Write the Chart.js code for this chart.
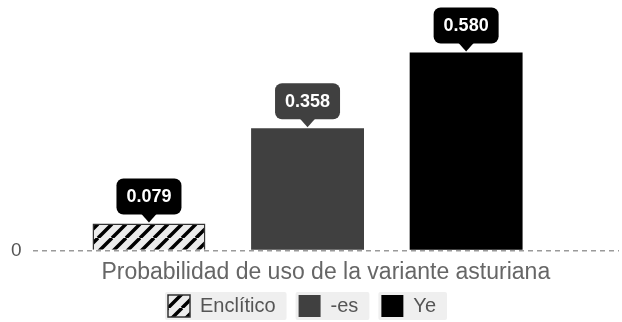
<!DOCTYPE html>
<html><head><meta charset="utf-8">
<script src="https://cdn.jsdelivr.net/npm/chart.js@4/dist/chart.umd.min.js"></script>
<style>html,body{margin:0;padding:0;background:#fff}#wrap{width:622px;height:322px}</style>
</head><body><div id="wrap"><canvas id="c" width="622" height="322"></canvas></div>
<script>
const categories = ['Enclítico', '-es', 'Ye'];
const values = [0.079, 0.358, 0.580];
const positions = [0, 1, 2];
const yTicks = [0];
const axisTitle = 'Probabilidad de uso de la variante asturiana';

function hatch() {
  const s = 14;
  const c = document.createElement('canvas');
  c.width = s; c.height = s;
  const g = c.getContext('2d');
  g.fillStyle = '#ececec'; g.fillRect(0, 0, s, s);
  g.strokeStyle = '#000'; g.lineWidth = 3.5;
  g.beginPath();
  for (let k = -1; k <= 1; k++) {
    g.moveTo(k * s, s); g.lineTo(k * s + s, 0);
  }
  g.stroke();
  return g.createPattern(c, 'repeat');
}
const ctx = document.getElementById('c').getContext('2d');
const fills = [hatch(), '#404040', '#000000'];
const borders = ['#333333', '#404040', '#000000'];
const bubbleColors = ['#000000', '#404040', '#000000'];

const FONT = '"Liberation Sans", Arial, sans-serif';
const LEGEND_SHIFT = 15;

const bubbles = {
  id: 'bubbles',
  afterDatasetsDraw(chart) {
    const c = chart.ctx;
    chart.data.datasets.forEach((ds, i) => {
      const el = chart.getDatasetMeta(i).data[0];
      if (!el) return;
      const x = el.x, top = el.y;
      const w = 65, h = 36, r = 7, aH = 8, aW = 8;
      const bottom = top - aH - 1;
      const y0 = bottom - h;
      c.save();
      c.fillStyle = bubbleColors[i];
      c.beginPath();
      c.roundRect(x - w / 2, y0, w, h, r);
      c.fill();
      c.beginPath();
      c.moveTo(x - aW, bottom - 1);
      c.lineTo(x, bottom + aH);
      c.lineTo(x + aW, bottom - 1);
      c.closePath();
      c.fill();
      c.fillStyle = '#fff';
      c.font = 'bold 18px ' + FONT;
      c.textAlign = 'center';
      c.textBaseline = 'middle';
      c.fillText(ds.data[0].y.toFixed(3), x, y0 + h / 2 + 1);
      c.restore();
    });
  }
};

const legendBg = {
  id: 'legendBg',
  afterLayout(chart) {
    const lg = chart.legend;
    if (!lg) return;
    lg.right -= LEGEND_SHIFT;
    (lg.legendHitBoxes || []).forEach(b => { b.left -= LEGEND_SHIFT / 2; });
  },
  beforeDraw(chart) {
    const lg = chart.legend;
    if (!lg || !lg.legendHitBoxes) return;
    const c = chart.ctx;
    c.save();
    c.fillStyle = '#efefef';
    lg.legendHitBoxes.forEach(b => {
      const cy = b.top + b.height / 2;
      c.beginPath();
      c.roundRect(b.left - 3, cy - 14, b.width + 14, 28, 2);
      c.fill();
    });
    c.restore();
  }
};

new Chart(ctx, {
  type: 'bar',
  data: {
    datasets: categories.map((name, i) => ({
      label: name,
      data: [{ x: positions[i], y: values[i] }],
      backgroundColor: fills[i],
      borderColor: borders[i],
      borderWidth: i === 0 ? 1.5 : 0,
      grouped: false,
      categoryPercentage: 1,
      barPercentage: 0.712
    }))
  },
  plugins: [bubbles, legendBg],
  options: {
    responsive: false,
    animation: false,
    events: [],
    layout: { padding: { left: 0, right: 3, top: 0, bottom: -5 } },
    scales: {
      x: {
        type: 'linear',
        offset: false,
        min: -0.734,
        max: 2.964,
        afterBuildTicks: (axis) => { axis.ticks = positions.map(v => ({ value: v })); },
        grid: { display: false, drawTicks: false },
        border: { display: false },
        ticks: { display: false },
        title: {
          display: true,
          text: axisTitle,
          color: '#666',
          font: { family: FONT, size: 23 },
          padding: { top: 8, bottom: -14 }
        }
      },
      y: {
        min: 0,
        max: 0.668,
        afterBuildTicks: (axis) => { axis.ticks = yTicks.map(v => ({ value: v })); },
        grid: {
          color: '#9a9a9a',
          lineWidth: 1.5,
          drawTicks: false
        },
        border: { display: false, dash: [5, 4] },
        ticks: {
          color: '#555',
          font: { family: FONT, size: 19 },
          padding: 11
        }
      }
    },
    plugins: {
      tooltip: { enabled: false },
      legend: {
        position: 'bottom',
        labels: {
          color: '#555',
          font: { family: FONT, size: 20 },
          boxWidth: 22,
          boxHeight: 22,
          padding: 23
        }
      }
    }
  }
});
</script>
</body></html>
